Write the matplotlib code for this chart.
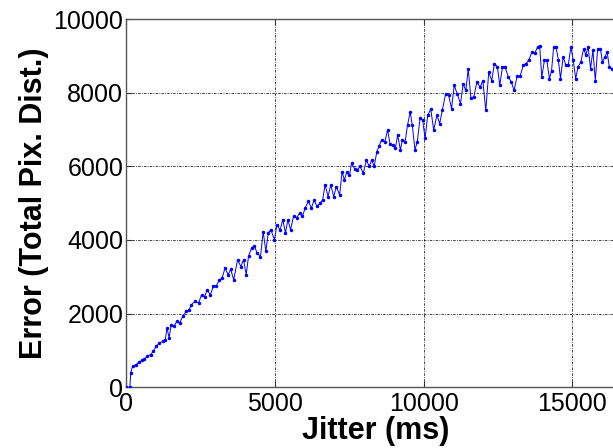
import matplotlib
matplotlib.use('Agg')
from matplotlib import pyplot as plt

# Jitter (ms) and error values
jitter_ms = [0, 130, 160, 220, 330, 430, 530, 620, 720, 830,
             920, 1010, 1120, 1230, 1320, 1380, 1450, 1520, 1620, 1710,
             1800, 1910, 2020, 2110, 2200, 2310, 2440, 2540, 2640, 2730,
             2830, 2940, 3030, 3140, 3230, 3330, 3430, 3520, 3620, 3750,
             3860, 3950, 4040, 4120, 4220, 4310, 4410, 4520, 4610, 4700,
             4780, 4870, 4990, 5070, 5180, 5270, 5360, 5440, 5530, 5630,
             5730, 5840, 5930, 6020, 6130, 6230, 6320, 6420, 6520, 6610,
             6690, 6790, 6880, 6980, 7070, 7180, 7260, 7340, 7420, 7510,
             7580, 7680, 7770, 7870, 7970, 8080, 8170, 8260, 8340, 8430,
             8500, 8590, 8700, 8790, 8870, 8960, 9050, 9130, 9220, 9290,
             9380, 9460, 9550, 9620, 9710, 9790, 9880, 9970, 10050, 10140,
             10240, 10340, 10450, 10540, 10630, 10740, 10840, 10940, 11030, 11130,
             11240, 11330, 11420, 11500, 11590, 11690, 11790, 11900, 11990, 12090,
             12190, 12290, 12380, 12480, 12560, 12650, 12740, 12850, 12950, 13040,
             13140, 13240, 13350, 13440, 13530, 13640, 13740, 13830, 13900, 13970,
             14060, 14140, 14230, 14300, 14370, 14450, 14530, 14600, 14690, 14780,
             14860, 14950, 15030, 15110, 15190, 15280, 15380, 15450, 15530, 15610,
             15690, 15770, 15850, 15940, 16010, 16090, 16170, 16240, 16340]

error_px = [0, 0, 390, 570, 610, 680, 730, 770, 840, 890,
            980, 1110, 1200, 1250, 1290, 1610, 1340, 1700, 1670, 1790,
            1740, 1930, 2060, 2100, 2240, 2330, 2290, 2510, 2460, 2650,
            2510, 2740, 2740, 2920, 2970, 3240, 3060, 3200, 2920, 3460,
            3280, 3460, 3060, 3570, 3780, 3840, 3640, 3550, 4230, 3690,
            4190, 4280, 4000, 4410, 4280, 4550, 4190, 4550, 4280, 4640,
            4600, 4730, 4640, 4870, 5050, 4870, 5080, 4910, 5000, 5090,
            5500, 5180, 5500, 5180, 5450, 5220, 5850, 5630, 5850, 5760,
            6080, 5940, 5900, 6000, 5810, 6170, 6000, 6170, 6000, 6400,
            6540, 6720, 6670, 6990, 6620, 6580, 6490, 6850, 6450, 6720,
            6670, 7120, 7480, 7120, 6450, 6670, 7300, 7250, 6760, 7390,
            7550, 6990, 7390, 7160, 7520, 7970, 7940, 7570, 8200, 7970,
            7700, 8240, 8060, 8650, 7850, 7890, 8290, 8150, 8330, 7520,
            8560, 8330, 8790, 8700, 8200, 8700, 8700, 8420, 8290, 8060,
            8440, 8440, 8750, 8790, 8880, 9100, 9080, 9240, 9280, 8420,
            8880, 8880, 8380, 8600, 9240, 9240, 8880, 8380, 8970, 8750,
            8750, 9240, 8880, 8380, 8700, 8830, 9200, 9020, 9240, 8650,
            9150, 8330, 9200, 9200, 8830, 8970, 9100, 8700, 8650]

x_ticks = [0, 5000, 10000, 15000]
y_ticks = [0, 2000, 4000, 6000, 8000, 10000]


def main():
    plt.rcParams['font.family'] = ['Liberation Sans', 'DejaVu Sans']

    fig = plt.figure(figsize=(6.13, 4.48), dpi=100)
    # axes runs past the right edge, like the cropped original
    ax = fig.add_axes([0.2055, 0.1355, 0.971, 0.822])

    ax.plot(jitter_ms, error_px, color='#0000ff', lw=0.7,
            marker='.', markersize=3, zorder=3)

    ax.set_xlim(0, 20000)
    ax.set_ylim(0, 10000)
    ax.set_xticks(x_ticks)
    ax.set_yticks(y_ticks)
    ax.tick_params(direction='in', length=4, width=0.8, labelsize=18,
                   top=True, right=True, pad=2, colors='#333333',
                   labelcolor='black')
    ax.tick_params(axis='x', pad=3.5)

    ax.grid(True, color='#222222', lw=0.6, linestyle=(0, (3, 1.5, 1, 1.5)))
    for sp in ax.spines.values():
        sp.set_color('#555555')
        sp.set_linewidth(1.0)

    ax.set_xlabel('Jitter (ms)', fontsize=22, fontweight='bold')
    ax.xaxis.set_label_coords(0.42, -0.14, transform=ax.transAxes)
    ax.xaxis.label.set_va('baseline')
    ax.set_ylabel('Error (Total Pix. Dist.)', fontsize=22, fontweight='bold',
                  labelpad=3)

    plt.savefig('out.png', dpi=100)


if __name__ == "__main__":
    main()
